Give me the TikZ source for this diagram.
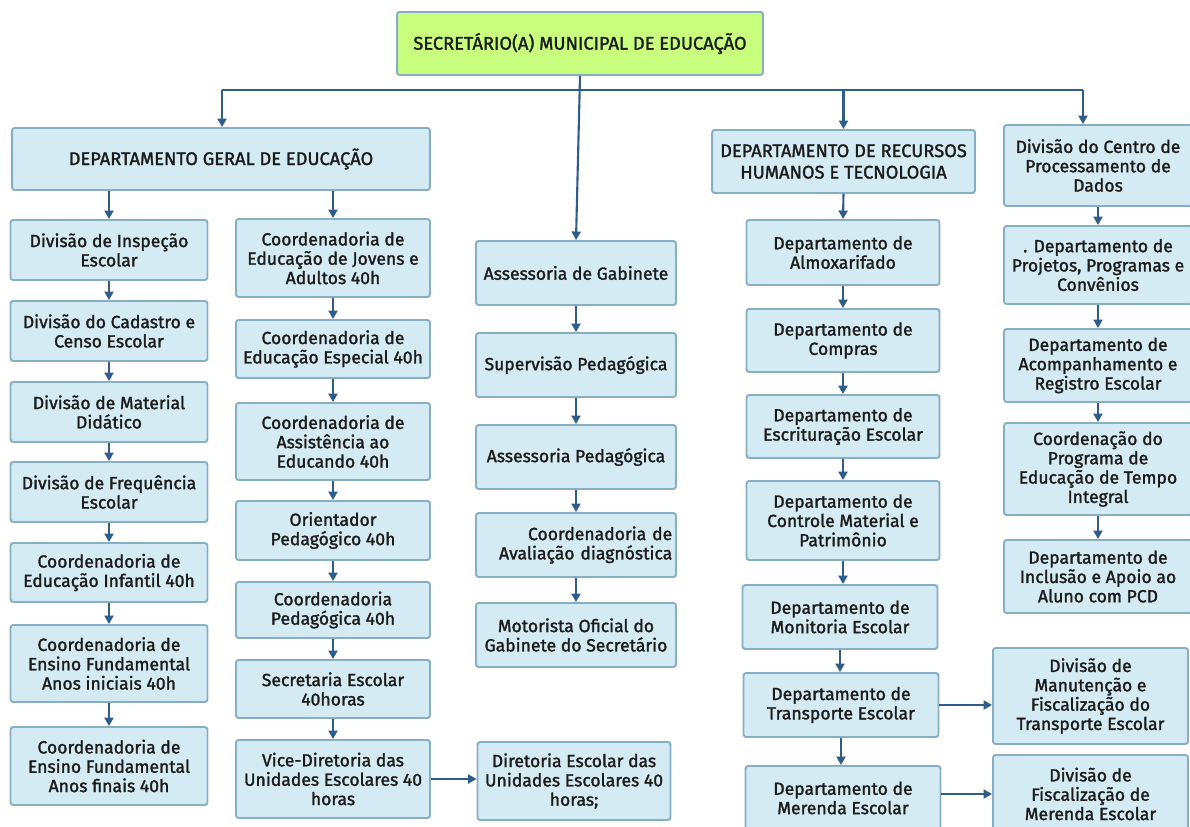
\documentclass[tikz,border=0pt]{standalone}
\usepackage{fontspec}
\setmainfont{Fira Sans}[BoldFont={Fira Sans},BoldFeatures={FakeBold=1.6}]
\usepackage{xcolor}
\usepackage{tikz}
\usetikzlibrary{arrows.meta,positioning,calc}
\definecolor{boxfill}{HTML}{D5EBF4}
\definecolor{boxline}{HTML}{86AFC4}
\definecolor{topfill}{HTML}{C8FD7E}
\definecolor{wire}{HTML}{2E5D8C}
\definecolor{ink}{HTML}{1C1C1C}
\tikzset{
  org/.style={draw=boxline,fill=boxfill,line width=1.1pt,rounded corners=1.5pt,align=center,
              text=ink,inner sep=1pt,font=\fontsize{10}{11}\selectfont\bfseries},
  head/.style={org,font=\fontsize{10.4}{12.2}\selectfont\bfseries},
  lnk/.style={-{Triangle[length=1.7mm,width=1.8mm]},line width=1.2pt,draw=wire},
  bus/.style={line width=1.2pt,draw=wire},
}
\begin{document}
\begin{tikzpicture}[x=0.02cm,y=-0.02cm]
  \useasboundingbox[fill=white] (0,0) rectangle (1190,827);
  % topo
  \node[head,fill=topfill,minimum width=7.32cm,minimum height=1.26cm] (sec) at (580,43.5) {SECRETÁRIO(A) MUNICIPAL DE EDUCAÇÃO};
  \node[head,minimum width=8.36cm,minimum height=1.24cm] (dge) at (221,159) {DEPARTAMENTO GERAL DE EDUCAÇÃO};
  \node[head,minimum width=5.26cm,minimum height=1.26cm] (drh) at (843.5,161.5) {DEPARTAMENTO DE RECURSOS\\ HUMANOS E TECNOLOGIA};
  \node[org,minimum width=3.76cm,minimum height=1.62cm] (e0) at (1098,165.5) {Divisão do Centro de\\ Processamento de\\ Dados};
  % coluna 1
  \node[org,minimum width=3.94cm,minimum height=1.2cm] (a1) at (109,250) {Divisão de Inspeção\\ Escolar};
  \node[org,minimum width=3.94cm,minimum height=1.2cm] (a2) at (109,331) {Divisão do Cadastro e\\ Censo Escolar};
  \node[org,minimum width=3.94cm,minimum height=1.2cm] (a3) at (109,412) {Divisão de Material\\ Didático};
  \node[org,minimum width=3.94cm,minimum height=1.2cm] (a4) at (109,492) {Divisão de Frequência\\ Escolar};
  \node[org,minimum width=3.94cm,minimum height=1.18cm] (a5) at (109,572.5) {Coordenadoria de\\ Educação Infantil 40h};
  \node[org,minimum width=3.94cm,minimum height=1.54cm] (a6) at (109,663.5) {Coordenadoria de\\ Ensino Fundamental\\ Anos iniciais 40h};
  \node[org,minimum width=3.94cm,minimum height=1.56cm] (a7) at (109,766) {Coordenadoria de\\ Ensino Fundamental\\ Anos finais 40h};
  % coluna 2
  \node[org,minimum width=3.88cm,minimum height=1.56cm] (b1) at (333,258) {Coordenadoria de\\ Educação de Jovens e\\ Adultos 40h};
  \node[org,minimum width=3.88cm,minimum height=1.16cm] (b2) at (333,349) {Coordenadoria de\\ Educação Especial 40h};
  \node[org,minimum width=3.88cm,minimum height=1.54cm] (b3) at (333,441.5) {Coordenadoria de\\ Assistência ao\\ Educando 40h};
  \node[org,minimum width=3.88cm,minimum height=1.18cm] (b4) at (333,530.5) {Orientador\\ Pedagógico 40h};
  \node[org,minimum width=3.88cm,minimum height=1.12cm] (b5) at (333,610) {Coordenadoria\\ Pedagógica 40h};
  \node[org,minimum width=3.88cm,minimum height=1.16cm] (b6) at (333,689) {Secretaria Escolar\\ 40horas};
  \node[org,minimum width=3.88cm,minimum height=1.56cm] (b7) at (333,779) {Vice-Diretoria das\\ Unidades Escolares 40\\ horas};
  \node[org,minimum width=3.86cm,minimum height=1.56cm] (dir) at (574,781) {Diretoria Escolar das\\ Unidades Escolares 40\\ horas;};
  % coluna 3
  \node[org,minimum width=4cm,minimum height=1.28cm] (c1) at (576,273) {Assessoria de Gabinete};
  \node[org,minimum width=4cm,minimum height=1.28cm] (c2) at (576,365) {Supervisão Pedagógica};
  \node[org,minimum width=4cm,minimum height=1.28cm] (c3) at (576,457) {Assessoria Pedagógica};
  \node[org,minimum width=4cm,minimum height=1.28cm,text width=3.85cm,align=right] (c4) at (576,545) {Coordenadoria de\\ Avaliação diagnóstica};
  \node[org,minimum width=4cm,minimum height=1.28cm] (c5) at (576,635) {Motorista Oficial do\\ Gabinete do Secretário};
  % coluna 4
  \node[org,minimum width=3.86cm,minimum height=1.3cm] (d1) at (843,252.5) {Departamento de\\ Almoxarifado};
  \node[org,minimum width=3.86cm,minimum height=1.26cm] (d2) at (843,340.5) {Departamento de\\ Compras};
  \node[org,minimum width=3.86cm,minimum height=1.26cm] (d3) at (843,426.5) {Departamento de\\ Escrituração Escolar};
  \node[org,minimum width=3.86cm,minimum height=1.58cm] (d4) at (843,520.5) {Departamento de\\ Controle Material e\\ Patrimônio};
  \node[org,minimum width=3.9cm,minimum height=1.28cm] (d5) at (840,617) {Departamento de\\ Monitoria Escolar};
  \node[org,minimum width=3.9cm,minimum height=1.28cm] (d6) at (841,705) {Departamento de\\ Transporte Escolar};
  \node[org,minimum width=3.9cm,minimum height=1.28cm] (d7) at (843,798) {Departamento de\\ Merenda Escolar};
  \node[org,minimum width=3.9cm,minimum height=1.92cm] (s1) at (1090.5,696) {Divisão de\\ Manutenção e\\ Fiscalização do\\ Transporte Escolar};
  \node[org,minimum width=3.9cm,minimum height=1.56cm] (s2) at (1090.5,794) {Divisão de\\ Fiscalização de\\ Merenda Escolar};
  % coluna 5
  \node[org,minimum width=3.76cm,minimum height=1.56cm] (e1) at (1098,265) {. Departamento de\\ Projetos, Programas e\\ Convênios};
  \node[org,minimum width=3.76cm,minimum height=1.46cm] (e2) at (1098,365.5) {Departamento de\\ Acompanhamento e\\ Registro Escolar};
  \node[org,minimum width=3.76cm,minimum height=1.84cm] (e3) at (1098,469) {Coordenação do\\ Programa de\\ Educação de Tempo\\ Integral};
  \node[org,minimum width=3.76cm,minimum height=1.46cm] (e4) at (1098,576.5) {Departamento de\\ Inclusão e Apoio ao\\ Aluno com PCD};
  % ligações
  \coordinate (busl) at (222,90);
  \coordinate (busr) at (1083,90);
  \draw[bus] (busl) -- (busr);
  \draw[lnk] (sec.south) -- (c1.north);
  \draw[lnk] (busl) -- (busl |- dge.north);
  \draw[lnk] (busr) -- (busr |- e0.north);
  \draw[lnk] (drh.north |- busl) -- (drh.north);
  \draw[lnk] (a1.north |- dge.south) -- (a1.north);
  \draw[lnk] (b1.north |- dge.south) -- (b1.north);
  \draw[lnk] (drh.south) -- (d1.north);
  \foreach \u/\v in {a1/a2,a2/a3,a3/a4,a4/a5,a5/a6,a6/a7,b1/b2,b2/b3,b3/b4,b4/b5,b5/b6,b6/b7,
                     c1/c2,c2/c3,c3/c4,c4/c5,d1/d2,d2/d3,d3/d4,d4/d5,d5/d6,d6/d7,e0/e1,e1/e2,e2/e3,e3/e4}
    \draw[lnk] (\u.south) -- (\u.south |- \v.north);
  \draw[lnk] (b7.east) -- (b7.east -| dir.west);
  \draw[lnk] (d6.east) -- (d6.east -| s1.west);
  \draw[lnk] (s2.west -| d7.east) -- (s2.west);
\end{tikzpicture}
\end{document}
